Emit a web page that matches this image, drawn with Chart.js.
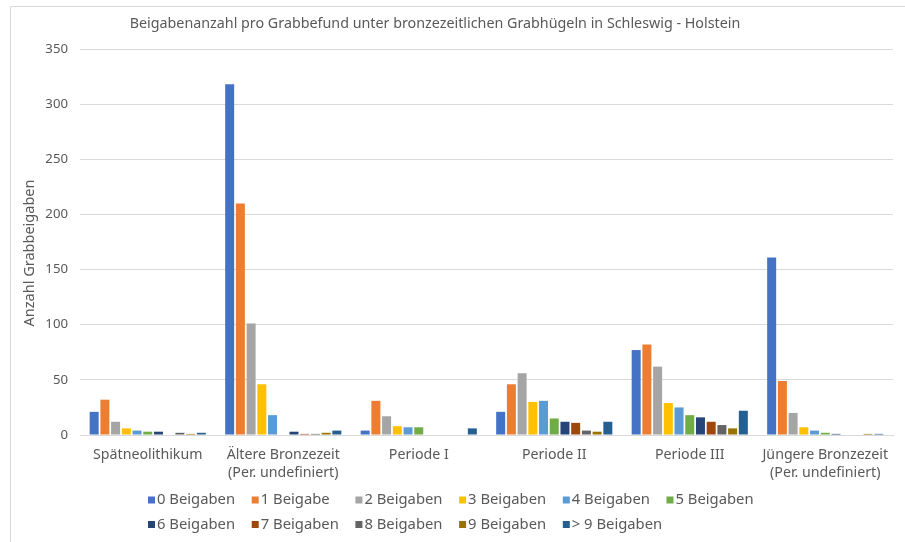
<!DOCTYPE html>
<html>
<head>
<meta charset="utf-8">
<script src="https://cdn.jsdelivr.net/npm/chart.js@4/dist/chart.umd.min.js"></script>
<style>
  html, body { margin: 0; padding: 0; background: #fff; }
  #wrap { width: 905px; height: 542px; }
</style>
</head>
<body>
<div id="wrap"><canvas id="chart" width="905" height="542"></canvas></div>
<script>
// Grave goods per burial, Bronze Age barrows in Schleswig-Holstein
const categories = [
  ['Spätneolithikum'],
  ['Ältere Bronzezeit', '(Per. undefiniert)'],
  ['Periode I'],
  ['Periode II'],
  ['Periode III'],
  ['Jüngere Bronzezeit', '(Per. undefiniert)'],
]

const seriesLabels = [
  '0 Beigaben', '1 Beigabe', '2 Beigaben', '3 Beigaben', '4 Beigaben', '5 Beigaben',
  '6 Beigaben', '7 Beigaben', '8 Beigaben', '9 Beigaben', '> 9 Beigaben',
]

const beigaben0  = [21, 318, 4, 21, 77, 161]
const beigaben1  = [32, 210, 31, 46, 82, 49]
const beigaben2  = [12, 101, 17, 56, 62, 20]
const beigaben3  = [6, 46, 8, 30, 29, 7]
const beigaben4  = [4, 18, 7, 31, 25, 4]
const beigaben5  = [3, 0, 7, 15, 18, 2]
const beigaben6  = [3, 3, 0, 12, 16, 1]
const beigaben7  = [0, 1, 0, 11, 12, 0]
const beigaben8  = [2, 1, 0, 4, 9, 0]
const beigaben9  = [1, 2, 0, 3, 6, 1]
const beigabenGt9 = [2, 4, 6, 12, 22, 1]

const yTicks = [0, 50, 100, 150, 200, 250, 300, 350]

const seriesValues = [
  beigaben0, beigaben1, beigaben2, beigaben3, beigaben4, beigaben5,
  beigaben6, beigaben7, beigaben8, beigaben9, beigabenGt9,
]

const seriesColors = [
  '#4472C4', '#ED7D31', '#A5A5A5', '#FFC000', '#5B9BD5', '#70AD47',
  '#264478', '#9E480E', '#636363', '#997300', '#255E91',
]

const TEXT_COLOR = '#595959'
const GRID_COLOR = '#d9d9d9'
const FONT = '"Noto Sans", "Open Sans", sans-serif'

// frame, title, y-axis caption and a grid-aligned legend
const decorations = {
  id: 'decorations',
  beforeDraw(chart) {
    const { ctx } = chart
    ctx.save()
    ctx.strokeStyle = GRID_COLOR
    ctx.lineWidth = 1
    ctx.beginPath()
    ctx.moveTo(10.5, chart.height)
    ctx.lineTo(10.5, 6.5)
    ctx.lineTo(chart.width, 6.5)
    ctx.stroke()
    ctx.restore()
  },
  afterDraw(chart) {
    const { ctx } = chart
    ctx.save()
    ctx.fillStyle = TEXT_COLOR
    ctx.textBaseline = 'middle'
    ctx.textAlign = 'center'
    ctx.font = '14.3px ' + FONT
    ctx.fillText('Beigabenanzahl pro Grabbefund unter bronzezeitlichen Grabhügeln in Schleswig - Holstein', 435, 24)

    ctx.save()
    ctx.translate(30, 253)
    ctx.rotate(-Math.PI / 2)
    ctx.font = '14.5px ' + FONT
    ctx.fillText('Anzahl Grabbeigaben', 0, 0)
    ctx.restore()

    ctx.textAlign = 'left'
    ctx.font = '14.8px ' + FONT
    chart.data.datasets.forEach((ds, i) => {
      const x = 148 + (i % 6) * 103.7
      const y = 500 + Math.floor(i / 6) * 24.5
      ctx.fillStyle = ds.backgroundColor
      ctx.fillRect(x, y - 3.5, 7, 7)
      ctx.fillStyle = TEXT_COLOR
      ctx.fillText(ds.label, x + 9, y)
    })
    ctx.restore()
  },
}

new Chart(document.getElementById('chart'), {
  type: 'bar',
  data: {
    labels: categories,
    datasets: seriesValues.map((data, i) => ({
      label: seriesLabels[i],
      data,
      backgroundColor: seriesColors[i],
      borderWidth: 0,
      categoryPercentage: 0.87,
      barPercentage: 0.84,
    })),
  },
  options: {
    responsive: false,
    animation: false,
    layout: { padding: { left: 12, right: 12, top: 49, bottom: 0 } },
    plugins: {
      legend: { display: false },
      title: { display: false },
      tooltip: { enabled: false },
    },
    scales: {
      x: {
        grid: { display: false },
        border: { display: true, color: GRID_COLOR },
        ticks: {
          color: TEXT_COLOR,
          font: { family: FONT, size: 14.2, lineHeight: 1.25 },
          padding: 3,
          maxRotation: 0,
          autoSkip: false,
        },
        afterFit: scale => { scale.height = 107 },
      },
      y: {
        min: 0,
        max: 350,
        afterBuildTicks: scale => { scale.ticks = yTicks.map(value => ({ value })) },
        grid: { color: GRID_COLOR, drawTicks: false },
        border: { display: false },
        ticks: {
          color: TEXT_COLOR,
          font: { family: FONT, size: 13.2 },
          padding: 12,
        },
        afterFit: scale => { scale.width = 68 },
      },
    },
  },
  plugins: [decorations],
})
</script>
</body>
</html>
